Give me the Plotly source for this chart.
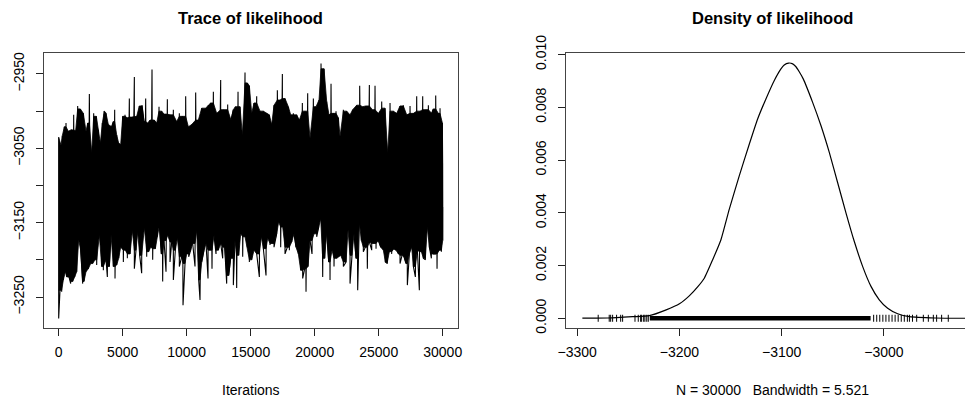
import plotly.graph_objects as go

# ---------------- data ----------------
# Trace of likelihood: chain values read at the top (upper) and bottom (lower) edge of the trace
trace_upper_iter = [0, 182, 286, 443, 573, 755, 990, 1172, 1328, 1484, 1693, 1927, 2135, 2266, 2396, 2578,
                    2734, 2943, 3099, 3255, 3411, 3541, 3698, 3880, 4140, 4271, 4375, 4531, 4687, 4843, 5000,
                    5182, 5364, 5520, 5703, 5911, 6093, 6302, 6510, 6666, 6796, 6953, 7135, 7291, 7473, 7656,
                    7838, 8046, 8229, 8489, 8697, 8958, 9218, 9426, 9661, 9921, 10130, 10390, 10702, 10911,
                    11171, 11484, 11692, 11874, 12083, 12343, 12655, 12864, 13202, 13463, 13645, 13801, 14010,
                    14166, 14348, 14556, 14739, 14895, 15077, 15259, 15468, 15728, 15989, 16249, 16457, 16640,
                    16822, 17082, 17291, 17473, 17681, 17942, 18124, 18332, 18593, 18801, 19035, 19244, 19452,
                    19634, 19895, 20103, 20337, 20493, 20728, 20936, 21118, 21275, 21457, 21665, 21848, 21978,
                    22238, 22499, 22759, 22967, 23280, 23514, 23748, 23983, 24269, 24504, 24712, 24972, 25233,
                    25493, 25701, 25884, 26144, 26405, 26665, 26925, 27186, 27446, 27707, 27967, 28227, 28436,
                    28696, 28879, 29139, 29269, 29452, 29660, 29790, 29973, 30000]
trace_upper_value = [-3035, -3046, -3033, -3021, -3016, -3027, -3025, -3005, -3026, -2993, -2997, -3003, -3027,
                     -3016, -2977, -3056, -3003, -3007, -3025, -3043, -3016, -3000, -3003, -3018, -3021, -3014,
                     -2998, -3032, -3043, -3045, -3007, -3005, -3009, -2983, -3008, -2954, -3007, -2993, -2992,
                     -3014, -2983, -3016, -3012, -2944, -3012, -3016, -2994, -3000, -3004, -2984, -3005, -2998,
                     -3014, -3003, -3007, -2980, -3021, -3018, -2975, -3012, -2996, -2996, -2992, -2989, -2974,
                     -3003, -2958, -2998, -2991, -3012, -2998, -2994, -2974, -2994, -3032, -2948, -2962, -2966,
                     -3003, -2989, -2980, -3000, -3000, -3003, -3005, -3018, -2992, -2972, -2985, -2950, -2983,
                     -2994, -3005, -3003, -3005, -3012, -2989, -3000, -2976, -3036, -2983, -2994, -2985, -2936,
                     -2943, -2987, -3005, -2963, -3003, -3000, -3009, -3034, -2998, -3000, -3005, -2998, -2992,
                     -2966, -2994, -2993, -2965, -2998, -2966, -3003, -2987, -2996, -3056, -2989, -3000, -3003,
                     -2993, -2992, -3005, -2993, -3003, -2980, -3000, -2980, -2998, -2992, -3003, -2997, -2979,
                     -3003, -2996, -3016, -3070]
trace_lower_iter = [0, 104, 234, 365, 521, 625, 807, 937, 1094, 1250, 1406, 1562, 1719, 1875, 1979, 2135, 2318,
                    2500, 2656, 2838, 2969, 3177, 3359, 3489, 3698, 3802, 3958, 4088, 4271, 4401, 4531, 4687,
                    4843, 5052, 5208, 5364, 5573, 5755, 5911, 6041, 6172, 6328, 6484, 6692, 6875, 7031, 7187,
                    7343, 7552, 7708, 7864, 8020, 8124, 8229, 8385, 8515, 8697, 8828, 8958, 9114, 9270, 9426,
                    9609, 9713, 9869, 9999, 10156, 10312, 10468, 10650, 10780, 10937, 11041, 11171, 11353, 11510,
                    11666, 11822, 11978, 12135, 12291, 12473, 12655, 12812, 12968, 13124, 13280, 13436, 13645,
                    13775, 13905, 14062, 14218, 14374, 14556, 14739, 14895, 15077, 15259, 15468, 15676, 15832,
                    15989, 16197, 16327, 16509, 16666, 16822, 17030, 17186, 17343, 17499, 17681, 17864, 18020,
                    18202, 18384, 18541, 18723, 18905, 19061, 19218, 19322, 19478, 19634, 19790, 19947, 20155,
                    20311, 20468, 20624, 20780, 20936, 21092, 21197, 21353, 21509, 21717, 21873, 22030, 22238,
                    22446, 22603, 22759, 22915, 23071, 23228, 23358, 23488, 23644, 23800, 23957, 24113, 24269,
                    24452, 24634, 24790, 24972, 25155, 25363, 25519, 25675, 25832, 26014, 26196, 26353, 26535,
                    26665, 26821, 26977, 27134, 27238, 27394, 27576, 27707, 27863, 28019, 28175, 28332, 28488,
                    28644, 28800, 28957, 29113, 29269, 29425, 29556, 29738, 29894, 29998, 30000]
trace_lower_value = [-3279, -3241, -3243, -3227, -3216, -3223, -3223, -3232, -3229, -3223, -3216, -3173, -3187,
                     -3232, -3229, -3216, -3212, -3205, -3205, -3200, -3207, -3167, -3209, -3214, -3200, -3223,
                     -3209, -3166, -3209, -3225, -3207, -3198, -3183, -3203, -3187, -3198, -3192, -3161, -3212,
                     -3187, -3163, -3194, -3218, -3157, -3196, -3189, -3183, -3200, -3185, -3169, -3154, -3192,
                     -3229, -3174, -3216, -3167, -3203, -3176, -3227, -3187, -3171, -3209, -3196, -3261, -3205,
                     -3192, -3196, -3187, -3178, -3209, -3161, -3227, -3254, -3203, -3187, -3178, -3225, -3187,
                     -3212, -3167, -3192, -3187, -3178, -3198, -3183, -3232, -3221, -3198, -3234, -3174, -3238,
                     -3194, -3165, -3196, -3169, -3183, -3203, -3200, -3187, -3192, -3223, -3169, -3185, -3221,
                     -3171, -3180, -3178, -3183, -3165, -3149, -3183, -3156, -3192, -3183, -3187, -3176, -3165,
                     -3183, -3192, -3214, -3225, -3212, -3243, -3209, -3174, -3192, -3165, -3169, -3156, -3145,
                     -3223, -3198, -3163, -3203, -3227, -3187, -3209, -3198, -3196, -3194, -3209, -3203, -3160,
                     -3232, -3194, -3165, -3198, -3241, -3149, -3174, -3189, -3183, -3212, -3176, -3187, -3178,
                     -3185, -3174, -3183, -3187, -3203, -3205, -3189, -3192, -3185, -3187, -3192, -3205, -3194,
                     -3196, -3205, -3234, -3192, -3183, -3209, -3223, -3187, -3241, -3189, -3198, -3200, -3156,
                     -3183, -3198, -3192, -3192, -3212, -3187, -3189, -3174, -3129]

# Density of likelihood (kernel density curve)
density_x = [-3295, -3270, -3245.8, -3229.5, -3213, -3200, -3190.4, -3182, -3175.7, -3167.5, -3159.4, -3151.3,
             -3141.5, -3131.7, -3123.5, -3115.4, -3107.2, -3100.7, -3097.5, -3093.2, -3089.2, -3086, -3082.8,
             -3078.9, -3069.7, -3061.5, -3053.4, -3045.2, -3037.1, -3029, -3020.8, -3012.6, -3004.5, -2996.3,
             -2986.5, -2975, -2950, -2918]
density_y = [0.000003, 0.00001, 0.00006, 0.0001, 0.00032, 0.00055, 0.00085, 0.0012, 0.00152, 0.00222, 0.00298,
             0.00413, 0.0054, 0.0066, 0.00756, 0.00832, 0.00902, 0.00946, 0.00961, 0.00968, 0.00965, 0.00954,
             0.00935, 0.00908, 0.00819, 0.0073, 0.00629, 0.00514, 0.004, 0.00292, 0.00197, 0.00121, 0.0007,
             0.00038, 0.00017, 0.00006, 0.00001, 0.0]

# rug: isolated sample values, plus the solid band of samples
rug_values = [-3279.5, -3268.7, -3267.3, -3265.4, -3261.5, -3257.5, -3255.6, -3243.5, -3240.3, -3238, -3237,
              -3235, -3233.8, -3232, -3230.5, -3010, -3007, -3004, -3001, -2998, -2995, -2992, -2989, -2986,
              -2983, -2980, -2977, -2975, -2972, -2967.9, -2961.4, -2956.5, -2951.6, -2948.4, -2943.5, -2937]
rug_band = [-3229, -3013]

trace_xticks = [0, 5000, 10000, 15000, 20000, 25000, 30000]
trace_yticks = [-3250, -3200, -3150, -3100, -3050, -3000, -2950]
trace_yticklabels = ["-3250", "", "-3150", "", "-3050", "", "-2950"]
dens_xticks = [-3300, -3200, -3100, -3000]
dens_yticks = [0.0, 0.002, 0.004, 0.006, 0.008, 0.010]
dens_yticklabels = ["0.000", "0.002", "0.004", "0.006", "0.008", "0.010"]

N_SAMPLES = 30000
BANDWIDTH = 5.521

# ---------------- figure ----------------
# the page body has an 8px margin, so the figure is 8px smaller and everything is placed 8px earlier
OFF = 8
W, H = 973 - OFF, 401 - OFF
FONT = "Liberation Sans, Arial, Helvetica, sans-serif"
MINUS = "\u2212"


def px_x(p):
    return (p - OFF) / W


def px_y(p):
    return 1 - (p - OFF) / H


def rolling_median(vals, half=1):
    out = []
    for i in range(len(vals)):
        win = sorted(vals[max(0, i - half): i + half + 1])
        out.append(win[len(win) // 2])
    return out


# solid body of the trace: read edges with the isolated spikes clipped to the local level
up_med = rolling_median(trace_upper_value)
lo_med = rolling_median(trace_lower_value)
body_upper = [min(v, m) for v, m in zip(trace_upper_value, up_med)]
body_lower = [max(v, m) for v, m in zip(trace_lower_value, lo_med)]

# chain drawn as a line through the read values, in iteration order (like R's trace plot)
pts = sorted(zip(trace_upper_iter + trace_lower_iter, trace_upper_value + trace_lower_value),
             key=lambda t: t[0])
chain_iter = [p[0] for p in pts]
chain_value = [p[1] for p in pts]

fig = go.Figure()
fig.add_trace(go.Scatter(x=trace_upper_iter + trace_lower_iter[::-1],
                         y=body_upper + body_lower[::-1],
                         mode="lines", fill="toself", fillcolor="black",
                         line=dict(color="black", width=0.8), xaxis="x", yaxis="y",
                         hoverinfo="skip", showlegend=False))
fig.add_trace(go.Scatter(x=chain_iter, y=chain_value, mode="lines",
                         line=dict(color="black", width=1.1), xaxis="x", yaxis="y",
                         hoverinfo="skip", showlegend=False))

fig.add_trace(go.Scatter(x=density_x, y=density_y, mode="lines", line=dict(color="black", width=1.2,
                         shape="spline", smoothing=0.5), xaxis="x2", yaxis="y2", showlegend=False))
fig.add_trace(go.Scatter(x=rug_band, y=[0, 0], mode="lines", line=dict(color="black", width=4.5),
                         xaxis="x2", yaxis="y2", showlegend=False))
fig.add_trace(go.Scatter(x=rug_values, y=[0] * len(rug_values), mode="markers",
                         marker=dict(symbol="line-ns", size=5, line=dict(width=1, color="black")),
                         xaxis="x2", yaxis="y2", showlegend=False))

axis_common = dict(showgrid=False, zeroline=False, showline=True, linecolor="#444", linewidth=1,
                   ticks="outside", ticklen=7, tickcolor="#222", tickwidth=1, automargin=False,
                   tickfont=dict(family=FONT, size=14, color="black"))

fig.update_layout(
    width=W, height=H, autosize=False,
    margin=dict(l=0, r=0, t=0, b=0, pad=0, autoexpand=False),
    paper_bgcolor="white", plot_bgcolor="white",
    font=dict(family=FONT, size=14, color="black"),
    xaxis=dict(domain=[px_x(43.7), px_x(457.7)], range=[-1170, 31170], tickvals=trace_xticks,
               ticktext=[str(v) for v in trace_xticks], mirror=True, anchor="y",
               ticklabelstandoff=4, **axis_common),
    yaxis=dict(domain=[px_y(328.3), px_y(53.3)], range=[-3292.1, -2922.2], tickvals=trace_yticks,
               ticktext=[t.replace("-", MINUS) for t in trace_yticklabels], tickangle=-90,
               mirror=True, anchor="x", ticklabelstandoff=6, **axis_common),
    xaxis2=dict(domain=[px_x(566), 1.0], range=[-3311, -2912.8], tickvals=dens_xticks,
                ticktext=[MINUS + str(-v) for v in dens_xticks], mirror=True, anchor="y2",
                ticklabelstandoff=4, **axis_common),
    yaxis2=dict(domain=[px_y(328.3), px_y(53.3)], range=[-0.00038, 0.01005], tickvals=dens_yticks,
                ticktext=dens_yticklabels, tickangle=-90, mirror=False, anchor="x2",
                ticklabelstandoff=6, **axis_common),
    annotations=[
        dict(text="<b>Trace of likelihood</b>", x=px_x(250.7), y=px_y(18), xref="paper", yref="paper",
             showarrow=False, font=dict(family=FONT, size=16.5), xanchor="center", yanchor="middle"),
        dict(text="<b>Density of likelihood</b>", x=px_x(772.5), y=px_y(18), xref="paper", yref="paper",
             showarrow=False, font=dict(family=FONT, size=16.5), xanchor="center", yanchor="middle"),
        dict(text="Iterations", x=px_x(250.7), y=px_y(390), xref="paper", yref="paper",
             showarrow=False, font=dict(family=FONT, size=14), xanchor="center", yanchor="middle"),
        dict(text=f"N = {N_SAMPLES}   Bandwidth = {BANDWIDTH}", x=px_x(772.5), y=px_y(390),
             xref="paper", yref="paper", showarrow=False, font=dict(family=FONT, size=14),
             xanchor="center", yanchor="middle"),
    ],
)

fig.write_html("out.html")
